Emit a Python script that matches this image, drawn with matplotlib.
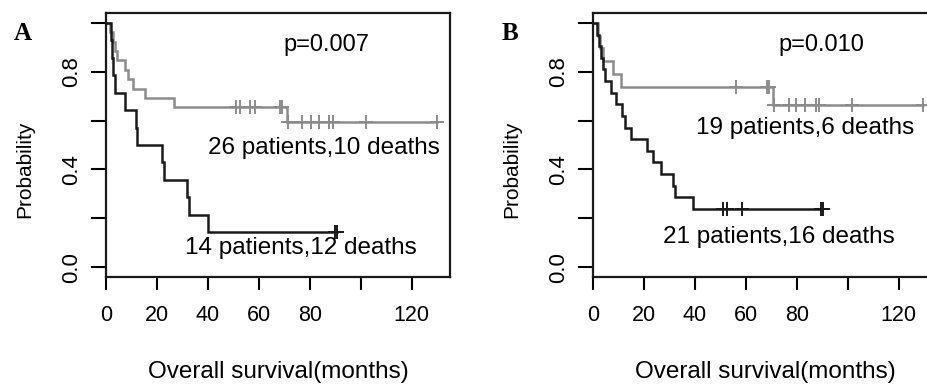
import numpy as np
import matplotlib
matplotlib.use('Agg')
import matplotlib.pyplot as plt

plt.rcParams['font.family'] = ['Liberation Sans', 'DejaVu Sans']

# panel A: survival curves (drop times / levels)
tA_black = [0, 1.8, 2.4, 2.9, 3.7, 7.5, 11.6, 12.3, 22.0, 22.9, 31.9, 32.7, 39.9, 90.5]
sA_black = [1.0, 0.929, 0.857, 0.786, 0.714, 0.643, 0.571, 0.5, 0.429, 0.357, 0.286, 0.214, 0.143, 0.143]
cA_black = [90.0, 90.8]

tA_gray = [0, 1.6, 2.9, 3.5, 4.2, 7.5, 8.8, 10.7, 15.3, 26.7, 71.0, 129.8]
sA_gray = [1.0, 0.962, 0.923, 0.885, 0.846, 0.808, 0.769, 0.731, 0.692, 0.654, 0.595, 0.595]
cA_gray = [50.9, 52.6, 56.5, 58.5, 68.4, 69.2, 71.3, 77.1, 80.4, 83.7, 87.7, 89.0, 102.0, 129.8]

# panel B
tB_black = [0, 1.7, 2.4, 3.0, 3.8, 4.6, 6.9, 9.2, 11.4, 12.4, 15.1, 21.3, 23.5, 26.8, 31.4, 32.3, 39.2, 90.0]
sB_black = [1.0, 0.952, 0.905, 0.857, 0.810, 0.762, 0.714, 0.667, 0.619, 0.571, 0.524, 0.476,
            0.429, 0.381, 0.333, 0.286, 0.238, 0.238]
cB_black = [51.0, 52.7, 58.4, 89.6, 90.2]

tB_gray = [0, 2.0, 2.9, 3.9, 7.8, 10.9, 70.6, 129.4]
sB_gray = [1.0, 0.947, 0.895, 0.842, 0.789, 0.737, 0.663, 0.663]
cB_gray = [56.2, 68.2, 68.9, 70.9, 76.9, 79.8, 83.1, 87.6, 88.6, 101.7, 129.4]

xticks = [0, 20, 40, 60, 80, 100, 120]
xticklabels = ['0', '20', '40', '60', '80', '', '120']
yticks = [0.0, 0.2, 0.4, 0.6, 0.8, 1.0]
yticklabels = ['0.0', '', '0.4', '', '0.8', '']

panels = [
    dict(letter='A', p='p=0.007',
         curves=[(tA_gray, sA_gray, cA_gray, '#8c8c8c'), (tA_black, sA_black, cA_black, '#1a1a1a')],
         notes=[('26 patients,10 deaths', 85.4, 0.487), ('14 patients,12 deaths', 76.3, 0.078)],
         ptxt=(86.7, 0.909)),
    dict(letter='B', p='p=0.010',
         curves=[(tB_gray, sB_gray, cB_gray, '#8c8c8c'), (tB_black, sB_black, cB_black, '#1a1a1a')],
         notes=[('19 patients,6 deaths', 83.3, 0.569), ('21 patients,16 deaths', 72.8, 0.123)],
         ptxt=(89.6, 0.909)),
]

W, H = 928, 388
fig = plt.figure(figsize=(W / 100, H / 100), dpi=100)

lefts = [106, 593]
for left, pan in zip(lefts, panels):
    ax = fig.add_axes([left / W, 1 - 277 / H, 344 / W, 264 / H])
    for t, s, cens, col in pan['curves']:
        ax.step(t, s, where='post', color=col, lw=1.8, solid_joinstyle='miter')
        t = np.array(t)
        idx = np.searchsorted(t, cens, side='right') - 1
        ax.plot(cens, np.array(s)[idx], linestyle='none', marker='+', color=col,
                markersize=10, markeredgewidth=1.4)
    ax.set_xlim(0, 135)
    ax.set_ylim(-0.04, 1.04)
    ax.set_xticks(xticks)
    ax.set_xticklabels(xticklabels)
    ax.set_yticks(yticks)
    ax.set_yticklabels(yticklabels, rotation=90, va='center')
    ax.tick_params(axis='y', length=11, width=1.5, pad=6, labelsize=16)
    ax.tick_params(axis='x', length=9.5, width=1.5, pad=11, labelsize=15.5)
    for sp in ax.spines.values():
        sp.set_linewidth(1.6)
        sp.set_color('#1a1a1a')
    ax.text(pan['ptxt'][0], pan['ptxt'][1], pan['p'], ha='center', va='center', fontsize=17)
    for txt, x, y in pan['notes']:
        ax.text(x, y, txt, ha='center', va='center', fontsize=17.5)

    fig.text((left - 81) / W, 1 - 169 / H, 'Probability', rotation=90,
             ha='center', va='center', fontsize=15)
    fig.text((left + 172) / W, 1 - 372 / H, 'Overall survival(months)',
             ha='center', va='center', fontsize=17.5)
    fig.text((left - 83) / W, 1 - 33 / H, pan['letter'], ha='center', va='center',
             fontsize=18, fontweight='bold', family='Liberation Serif')

fig.savefig('out.png', dpi=100)
